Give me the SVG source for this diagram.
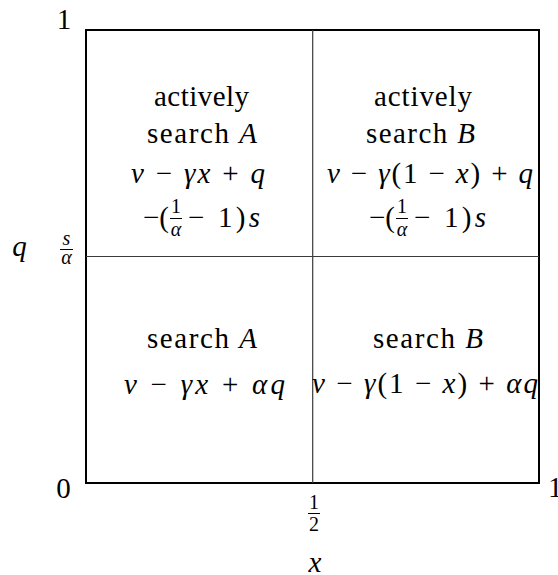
<svg xmlns="http://www.w3.org/2000/svg" width="558" height="575" viewBox="0 0 558 575">
<style>
text{font-family:"Liberation Serif","Times New Roman",Tinos,"Noto Serif","DejaVu Serif",FreeSerif,Georgia,serif;fill:#000}
.t{font-size:29px}
.s{font-size:20px}
.i{font-style:italic}
.box{fill:none;stroke:#000;stroke-width:2}
.grid{stroke:#3a3a3a;stroke-width:1.2}
.bar{stroke:#000;stroke-width:1}
</style>
<rect width="558" height="575" fill="#fff"/>
<g id="grid">
<rect class="box" x="86" y="30" width="453" height="453"/>
<line class="grid" x1="312.7" y1="30" x2="312.7" y2="483"/>
<line class="grid" x1="86" y1="256.5" x2="539" y2="256.5"/>
</g>
<g id="axes">
<text class="t" x="64" y="29" text-anchor="middle">1</text>
<text class="t" x="63.5" y="498" text-anchor="middle">0</text>
<text class="t" x="548" y="497">1</text>
<text class="t i" x="19.5" y="256" text-anchor="middle">q</text>
<text class="s i" x="66.5" y="245" text-anchor="middle">s</text>
<line class="bar" x1="60" y1="249.5" x2="73" y2="249.5"/>
<text class="s i" x="66.5" y="264" text-anchor="middle">α</text>
<text class="s" x="314" y="509" text-anchor="middle">1</text>
<line class="bar" x1="308" y1="513.5" x2="320" y2="513.5"/>
<text class="s" x="314" y="531" text-anchor="middle">2</text>
<text class="t i" x="315" y="572" text-anchor="middle">x</text>
</g>
<g id="cell-active-A">
<text class="t" x="201.5" y="106" text-anchor="middle" textLength="95">actively</text>
<text class="t" x="202" y="143" text-anchor="middle" textLength="110">search <tspan class="i">A</tspan></text>
<text class="t" x="198" y="183" text-anchor="middle" textLength="134"><tspan class="i">v</tspan> − <tspan class="i">γx</tspan> + <tspan class="i">q</tspan></text>
<text class="t" x="169" y="227" text-anchor="end">−(</text>
<text class="s" x="176" y="213" text-anchor="middle">1</text>
<line class="bar" x1="170" y1="218.5" x2="182" y2="218.5"/>
<text class="s i" x="176" y="236" text-anchor="middle">α</text>
<text class="t" x="188" y="227" textLength="72">− 1)<tspan class="i">s</tspan></text>
</g>
<g id="cell-active-B">
<text class="t" x="423" y="106" text-anchor="middle" textLength="98">actively</text>
<text class="t" x="420.5" y="143" text-anchor="middle" textLength="109">search <tspan class="i">B</tspan></text>
<text class="t" x="430" y="183" text-anchor="middle" textLength="206"><tspan class="i">v</tspan> − <tspan class="i">γ</tspan>(1 − <tspan class="i">x</tspan>) + <tspan class="i">q</tspan></text>
<text class="t" x="395" y="227" text-anchor="end">−(</text>
<text class="s" x="402" y="213" text-anchor="middle">1</text>
<line class="bar" x1="396" y1="218.5" x2="408" y2="218.5"/>
<text class="s i" x="402" y="236" text-anchor="middle">α</text>
<text class="t" x="414" y="227" textLength="72">− 1)<tspan class="i">s</tspan></text>
</g>
<g id="cell-search-A">
<text class="t" x="202" y="348" text-anchor="middle" textLength="110">search <tspan class="i">A</tspan></text>
<text class="t" x="204.5" y="394" text-anchor="middle" textLength="161"><tspan class="i">v</tspan> − <tspan class="i">γx</tspan> + <tspan class="i">αq</tspan></text>
</g>
<g id="cell-search-B">
<text class="t" x="428" y="348" text-anchor="middle" textLength="110">search <tspan class="i">B</tspan></text>
<text class="t" x="425" y="393" text-anchor="middle" textLength="226"><tspan class="i">v</tspan> − <tspan class="i">γ</tspan>(1 − <tspan class="i">x</tspan>) + <tspan class="i">αq</tspan></text>
</g>
</svg>
